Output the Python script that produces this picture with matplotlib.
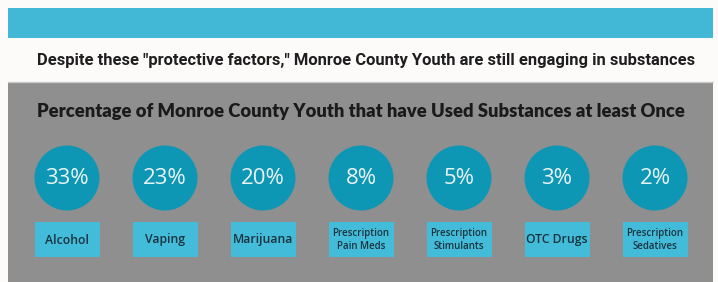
import matplotlib
matplotlib.use("Agg")
import matplotlib.pyplot as plt
from matplotlib.patches import Circle, Rectangle

# data
substances = ["Alcohol", "Vaping", "Marijuana", "Prescription\nPain Meds",
              "Prescription\nStimulants", "OTC Drugs", "Prescription\nSedatives"]
percent = [33, 23, 20, 8, 5, 3, 2]

subtitle = 'Despite these "protective factors," Monroe County Youth are still engaging in substances'
title = "Percentage of Monroe County Youth that have Used Substances at least Once"

W, H = 718, 282
fig = plt.figure(figsize=(W / 100, H / 100), dpi=100)
fig.patch.set_facecolor("#fdfafa")
ax = fig.add_axes([0, 0, 1, 1])
ax.set_xlim(0, W)
ax.set_ylim(H, 0)
ax.axis("off")

# top band and gray panel
ax.add_patch(Rectangle((8, 8), 705, 30, color="#42b8d6", lw=0))
ax.add_patch(Rectangle((8, 82), 705, 200, color="#8f8f8f", lw=0))
ax.plot([8, 713], [82, 82], color="#c8c8c8", lw=1)

renderer = fig.canvas.get_renderer()


def fit_text(x0, x1, y, s, size, **kw):
    t = ax.text((x0 + x1) / 2, y, s, ha="center", va="center", fontsize=size, **kw)
    w = t.get_window_extent(renderer).width
    t.set_fontsize(size * (x1 - x0) / w)
    return t


fit_text(38, 695, 60, subtitle, 11, family=["Roboto", "DejaVu Sans"],
         weight="bold", color="#1e1e1e")
fit_text(40, 682, 111, title, 12, family=["Lato", "DejaVu Sans"],
         weight="heavy", color="#1a1a1a")

x0, step = 67, 98
for i, (name, p) in enumerate(zip(substances, percent)):
    cx = x0 + i * step
    ax.add_patch(Circle((cx, 178), 32.5, color="#0e97b4", lw=0))
    ax.text(cx, 179, f"{p}%", ha="center", va="center", fontsize=16,
            family="Open Sans", color="#e8f4f6")
    ax.add_patch(Rectangle((cx - 32.5, 222), 65, 35, color="#43bcd9", lw=0))
    two = "\n" in name
    ax.text(cx, 240, name, ha="center", va="center", fontsize=7.0 if two else 8.8,
            family="Open Sans", weight="semibold", color="#1b3340", linespacing=1.2)

fig.savefig("out.png", dpi=100, facecolor=fig.get_facecolor())
